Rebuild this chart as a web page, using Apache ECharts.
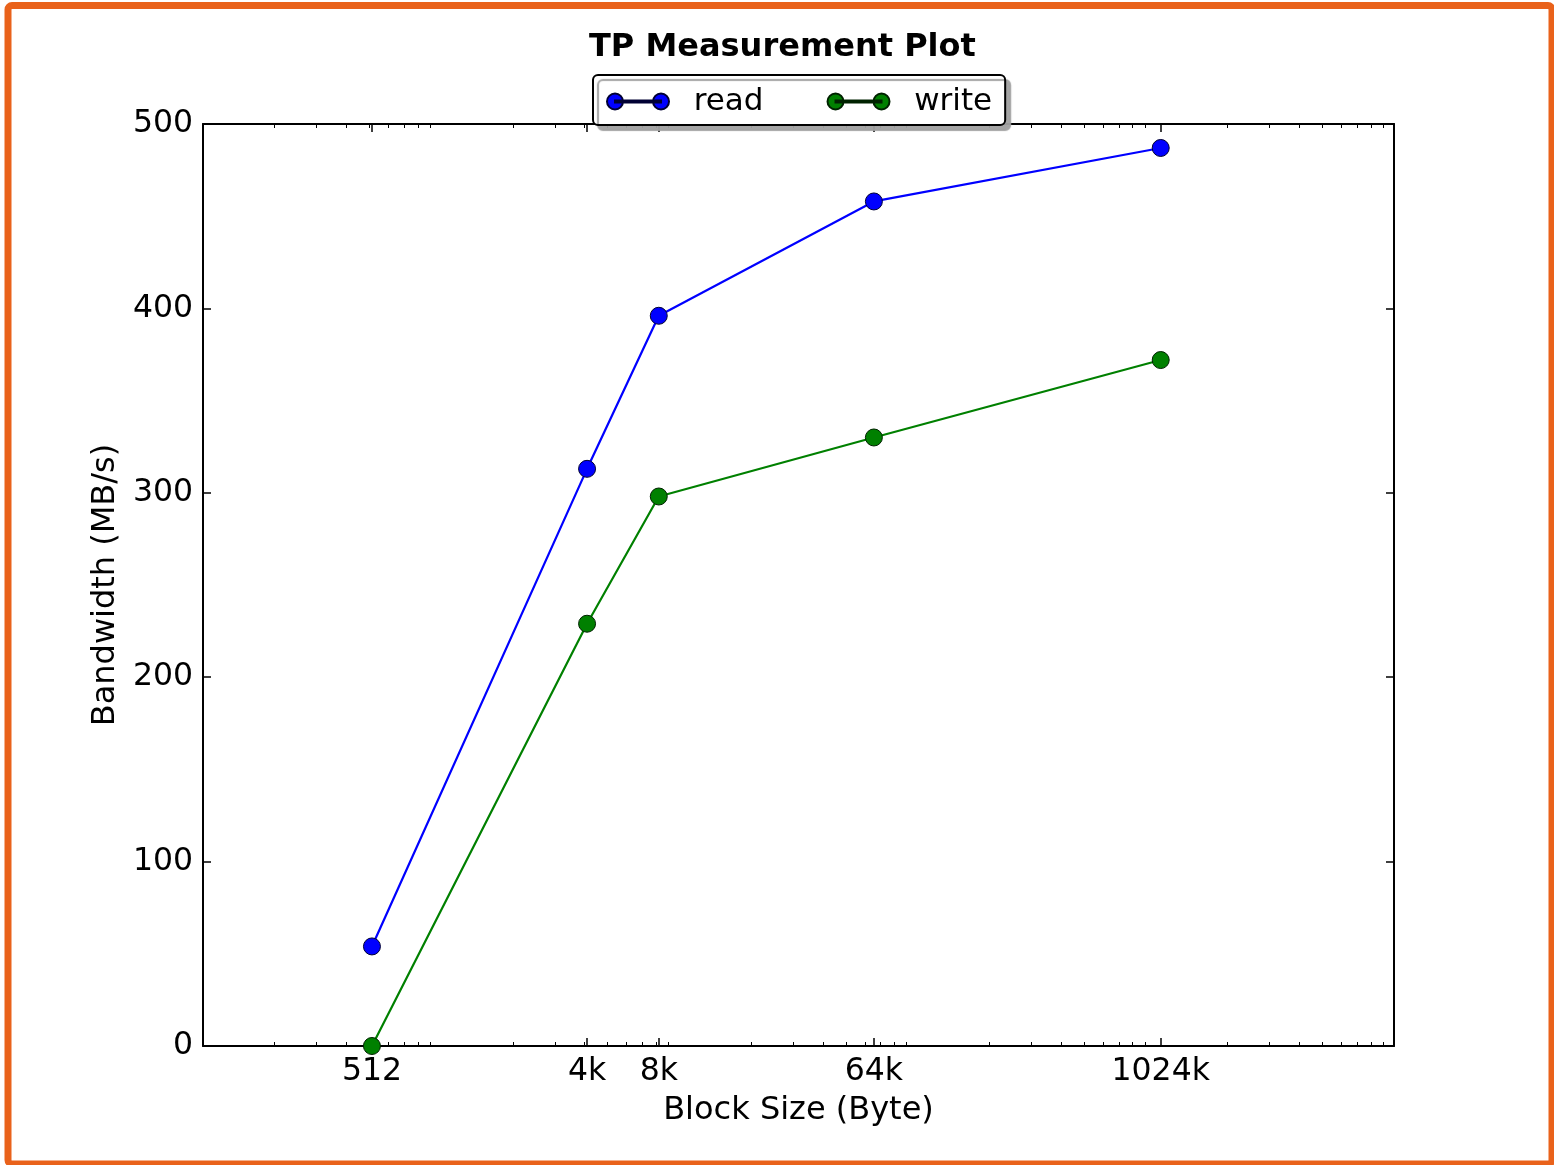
<!DOCTYPE html>
<html>
<head>
<meta charset="utf-8">
<title>TP Measurement Plot</title>
<script src="https://cdn.jsdelivr.net/npm/echarts@6/dist/echarts.min.js"></script>
<style>
  html, body { margin: 0; padding: 0; background: #ffffff; }
  #chart { width: 1554px; height: 1165px; }
</style>
</head>
<body>
<div id="chart"></div>
<script>
// Block sizes in bytes and their tick labels
const blockSizes = [512, 4096, 8192, 65536, 1048576];
const blockLabels = ['512', '4k', '8k', '64k', '1024k'];

// Measured bandwidth in MB/s
const readMBs = [54, 313, 396, 458, 487];
const writeMBs = [0, 229, 298, 330, 372];

// Y axis range
const yMin = 0, yMax = 500, yStep = 100;

// Log-decade minor ticks (2..9 x 10^k) between 100 and 10^7
const minorTicks = [];
for (let k = 2; k <= 6; k++) {
  for (let m = 2; m <= 9; m++) minorTicks.push(m * Math.pow(10, k));
}

const FONT = 'DejaVu Sans';
const BLACK = '#000000';

function sizeLabel(v) {
  for (let i = 0; i < blockSizes.length; i++) {
    if (Math.abs(Math.log2(v) - Math.log2(blockSizes[i])) < 0.01) return blockLabels[i];
  }
  return '';
}

const xBase = {
  type: 'log', logBase: 10, min: 100, max: 10000000, gridIndex: 0,
  splitLine: { show: false }, minorTick: { show: false }, minorSplitLine: { show: false }
};

// circle - line - circle legend glyph
const legendIcon = 'path://M0,8a8,8 0 1,0 16,0a8,8 0 1,0 -16,0Z M46,8a8,8 0 1,0 16,0a8,8 0 1,0 -16,0Z M8,7.1H54V8.9H8Z';

const chart = echarts.init(document.getElementById('chart'), null, { renderer: 'canvas' });

chart.setOption({
  backgroundColor: '#ffffff',
  animation: false,
  title: {
    text: 'TP Measurement Plot',
    left: 584,
    top: 27,
    padding: 5,
    textStyle: { fontFamily: FONT, fontSize: 32, fontWeight: 'bold', color: BLACK }
  },
  legend: {
    left: 593,
    top: 75,
    padding: [11, 13, 8, 13],
    itemGap: 63,
    itemWidth: 62,
    itemHeight: 16,
    backgroundColor: '#ffffff',
    borderColor: BLACK,
    borderWidth: 2,
    borderRadius: 5,
    shadowColor: 'rgba(160,160,160,0.95)',
    shadowBlur: 1,
    shadowOffsetX: 5,
    shadowOffsetY: 5,
    formatter: name => '  ' + name,
    textStyle: { fontFamily: FONT, fontSize: 31, color: BLACK },
    data: [
      { name: 'read', icon: legendIcon },
      { name: 'write', icon: legendIcon }
    ]
  },
  grid: { left: 203, right: 160, top: 124, bottom: 119, containLabel: false },
  xAxis: [
    Object.assign({}, xBase, {
      position: 'bottom',
      name: 'Block Size (Byte)',
      nameLocation: 'middle',
      nameGap: 49,
      nameTextStyle: { fontFamily: FONT, fontSize: 32, color: BLACK },
      axisLine: { show: true, onZero: false, lineStyle: { color: BLACK, width: 2 } },
      axisTick: { show: true, inside: true, length: 8, customValues: blockSizes, lineStyle: { color: BLACK, width: 1.5 } },
      axisLabel: { show: true, margin: 10, customValues: blockSizes, formatter: v => sizeLabel(v),
                   fontFamily: FONT, fontSize: 31.5, color: BLACK }
    }),
    Object.assign({}, xBase, {
      position: 'bottom',
      axisLine: { show: false, onZero: false },
      axisTick: { show: true, inside: true, length: 4, customValues: minorTicks, lineStyle: { color: BLACK, width: 1 } },
      axisLabel: { show: false }
    }),
    Object.assign({}, xBase, {
      position: 'top',
      axisLine: { show: true, onZero: false, lineStyle: { color: BLACK, width: 2 } },
      axisTick: { show: true, inside: true, length: 8, customValues: blockSizes, lineStyle: { color: BLACK, width: 1.5 } },
      axisLabel: { show: false }
    }),
    Object.assign({}, xBase, {
      position: 'top',
      axisLine: { show: false, onZero: false },
      axisTick: { show: true, inside: true, length: 4, customValues: minorTicks, lineStyle: { color: BLACK, width: 1 } },
      axisLabel: { show: false }
    })
  ],
  yAxis: [
    {
      type: 'value', position: 'left', min: yMin, max: yMax, interval: yStep,
      name: 'Bandwidth (MB/s)',
      nameLocation: 'middle',
      nameGap: 81,
      nameRotate: 90,
      nameTextStyle: { fontFamily: FONT, fontSize: 32, color: BLACK },
      splitLine: { show: false },
      axisLine: { show: true, onZero: false, lineStyle: { color: BLACK, width: 2 } },
      axisTick: { show: true, inside: true, length: 8, lineStyle: { color: BLACK, width: 1.5 } },
      axisLabel: { margin: 10, fontFamily: FONT, fontSize: 31.5, color: BLACK }
    },
    {
      type: 'value', position: 'right', min: yMin, max: yMax, interval: yStep,
      splitLine: { show: false },
      axisLine: { show: true, onZero: false, lineStyle: { color: BLACK, width: 2 } },
      axisTick: { show: true, inside: true, length: 8, lineStyle: { color: BLACK, width: 1.5 } },
      axisLabel: { show: false }
    }
  ],
  series: [
    {
      name: 'read', type: 'line', xAxisIndex: 0, yAxisIndex: 0,
      data: blockSizes.map((s, i) => [s, readMBs[i]]),
      color: '#0000ff',
      lineStyle: { color: '#0000ff', width: 2.2 },
      symbol: 'circle', symbolSize: 17,
      itemStyle: { color: '#0000ff', borderColor: '#000033', borderWidth: 1 },
      z: 3
    },
    {
      name: 'write', type: 'line', xAxisIndex: 0, yAxisIndex: 0,
      data: blockSizes.map((s, i) => [s, writeMBs[i]]),
      color: '#008000',
      lineStyle: { color: '#008000', width: 2.2 },
      symbol: 'circle', symbolSize: 17,
      itemStyle: { color: '#008000', borderColor: '#002200', borderWidth: 1 },
      z: 3
    }
  ],
  graphic: [
    {
      type: 'rect', z: 100, silent: true,
      shape: { x: 8, y: 5.5, width: 1544, height: 1158.5, r: 4 },
      style: { fill: 'none', stroke: '#e9621b', lineWidth: 7 }
    }
  ]
});
</script>
</body>
</html>
